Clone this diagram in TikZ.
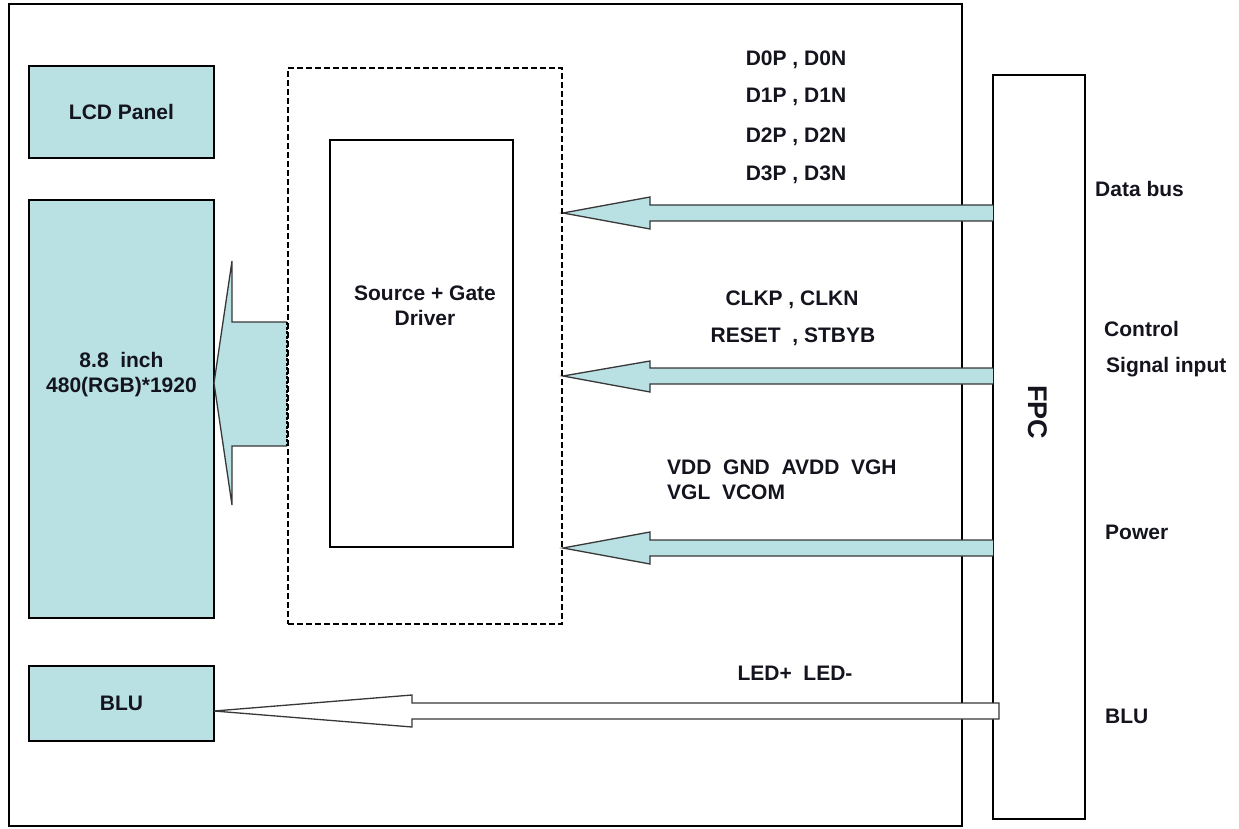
\documentclass[tikz,border=0pt]{standalone}
\usepackage{fontspec}
\setmainfont{Liberation Sans}
\definecolor{panelfill}{RGB}{185,224,227}
\definecolor{edgegray}{RGB}{55,55,55}
\definecolor{txt}{RGB}{20,20,30}
\begin{document}
\begin{tikzpicture}[x=1pt,y=-1pt,
  box/.style={draw=black, line width=1.3pt, inner sep=0pt},
  fillbox/.style={box, fill=panelfill},
  lbl/.style={inner sep=0pt, text=txt, font=\fontsize{21}{25}\selectfont\bfseries},
  lblw/.style={lbl, anchor=west},
  arrowfill/.style={fill=panelfill},
  arrowedge/.style={draw=edgegray, line width=1.3pt, line join=miter},
  dashbox/.style={draw=black, line width=1.1pt, dash pattern=on 6pt off 3pt, inner sep=0pt},
]
\useasboundingbox (0,0) rectangle (1239,829);
% outer frame
\node[box, minimum width=953pt, minimum height=822pt] (frame) at (485.5,415) {};
% left boxes
\node[fillbox, minimum width=185pt, minimum height=92pt, lbl] (lcd) at (121.5,112) {LCD Panel};
\node[fillbox, minimum width=185pt, minimum height=418pt] (panel) at (121.5,409) {};
\node[lbl] (size) at (121.5,360) {8.8\ \ inch};
\node[lbl] (res) at (121.5,387) {480(RGB)*1920};
\node[fillbox, minimum width=185pt, minimum height=75pt, lbl] (blu) at (121.5,703.5) {BLU};
% driver
\node[box, minimum width=183pt, minimum height=407pt] (drv) at (421.5,343.5) {};
\node[lbl, align=center] (drvtxt) at (425,306) {Source + Gate\\Driver};
% FPC
\node[box, minimum width=92pt, minimum height=744pt] (fpc) at (1039,447) {};
\node[inner sep=0pt, text=txt, font=\fontsize{27}{30}\selectfont\bfseries, rotate=-90] (fpctxt) at (1038,412) {FPC};

% block arrow to panel
\coordinate (pa1) at (287,322);
\coordinate (pa2) at (287,446);
\fill[arrowfill] (pa1) -- (232,322) -- (232,261) -- (214,383) -- (232,505) -- (232,446) -- (pa2) -- cycle;
\draw[arrowedge] (pa1) -- (232,322) -- (232,261) -- (214,383) -- (232,505) -- (232,446) -- (pa2);
\draw[line width=2pt, dash pattern=on 3pt off 1.5pt] (pa1) -- (pa2);

% data bus arrow
\coordinate (da1) at (993,205);
\coordinate (da2) at (993,221);
\fill[arrowfill] (da1) -- (650,205) -- (650,197) -- (563,213) -- (650,229) -- (650,221) -- (da2) -- cycle;
\draw[arrowedge] (da1) -- (650,205) -- (650,197) -- (563,213) -- (650,229) -- (650,221) -- (da2);

% control arrow
\coordinate (ca1) at (993,368);
\coordinate (ca2) at (993,384);
\fill[arrowfill] (ca1) -- (650,368) -- (650,361) -- (563,376) -- (650,392) -- (650,384) -- (ca2) -- cycle;
\draw[arrowedge] (ca1) -- (650,368) -- (650,361) -- (563,376) -- (650,392) -- (650,384) -- (ca2);

% power arrow
\coordinate (pw1) at (993,540);
\coordinate (pw2) at (993,556);
\fill[arrowfill] (pw1) -- (650,540) -- (650,532) -- (563,548) -- (650,564) -- (650,556) -- (pw2) -- cycle;
\draw[arrowedge] (pw1) -- (650,540) -- (650,532) -- (563,548) -- (650,564) -- (650,556) -- (pw2);

% BLU arrow
\coordinate (ba1) at (999,703);
\coordinate (ba2) at (999,719);
\filldraw[fill=white, draw=edgegray, line width=1.3pt, line join=miter] (ba1) -- (412,703) -- (412,695) -- (214,711) -- (412,727) -- (412,719) -- (ba2) -- cycle;

% dashed driver area
\node[dashbox, minimum width=274pt, minimum height=556pt] (area) at (425,346) {};

% labels near arrows
\node[lbl] (d0) at (796,60) {D0P , D0N};
\node[lbl] (d1) at (796,97) {D1P , D1N};
\node[lbl] (d2) at (796,137) {D2P , D2N};
\node[lbl] (d3) at (796,175) {D3P , D3N};
\node[lbl] (clk) at (792,300) {CLKP , CLKN};
\node[lbl] (rst) at (793,337) {RESET\ \ , STBYB};
\node[lblw] (pw) at (667,467) {VDD\ \ GND\ \ AVDD\ \ VGH};
\node[lblw] (pw2t) at (667,492) {VGL\ \ VCOM};
\node[lbl] (led) at (795,673) {LED+\ \ LED-};
% right side labels
\node[lblw] (databus) at (1095,189) {Data bus};
\node[lblw] (ctrl) at (1104,329) {Control};
\node[lblw] (sig) at (1106,367) {Signal input};
\node[lblw] (power) at (1105,532) {Power};
\node[lblw] (blur) at (1105,716) {BLU};
\end{tikzpicture}
\end{document}
